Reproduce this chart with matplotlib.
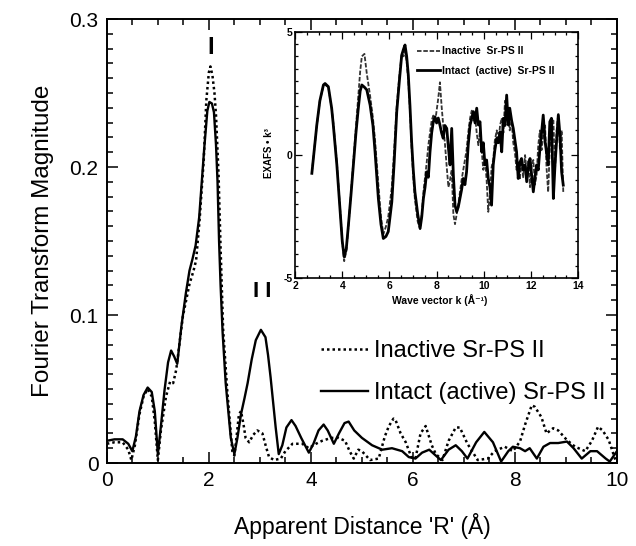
import matplotlib
matplotlib.use("Agg")
import matplotlib.pyplot as plt
from matplotlib.ticker import MultipleLocator, FixedLocator, FixedFormatter

plt.rcParams["font.family"] = ["Liberation Sans", "DejaVu Sans"]

# Fourier transform magnitude vs apparent distance R (A)
r_intact = [0.00, 0.15, 0.31, 0.42, 0.50, 0.57, 0.64, 0.72, 0.80, 0.88, 0.94, 1.00,
            1.06, 1.13, 1.20, 1.26, 1.32, 1.38, 1.46, 1.55, 1.62, 1.68, 1.74, 1.81,
            1.91, 1.97, 2.01, 2.06, 2.10, 2.14, 2.17, 2.20, 2.23, 2.27, 2.33, 2.43,
            2.50, 2.56, 2.63, 2.70, 2.76, 2.84, 2.92, 3.02, 3.11, 3.16, 3.21, 3.31,
            3.37, 3.44, 3.52, 3.62, 3.70, 3.81, 3.96, 4.05, 4.15, 4.25, 4.33, 4.45,
            4.55, 4.66, 4.74, 4.85, 5.00, 5.20, 5.40, 5.59, 5.79, 5.92, 6.05, 6.18,
            6.32, 6.45, 6.55, 6.70, 6.84, 6.96, 7.07, 7.24, 7.40, 7.57, 7.73, 7.87,
            7.96, 8.10, 8.20, 8.29, 8.43, 8.56, 8.69, 8.85, 9.02, 9.15, 9.31, 9.48,
            9.61, 9.78, 9.86, 10.0]
ft_intact = [0.015, 0.016, 0.016, 0.013, 0.008, 0.018, 0.035, 0.046, 0.051, 0.048, 0.035, 0.006,
             0.025, 0.049, 0.068, 0.076, 0.072, 0.067, 0.092, 0.115, 0.130, 0.138, 0.147, 0.166,
             0.213, 0.238, 0.244, 0.243, 0.237, 0.215, 0.190, 0.150, 0.120, 0.088, 0.054, 0.017,
             0.006, 0.017, 0.033, 0.044, 0.054, 0.070, 0.083, 0.090, 0.085, 0.073, 0.058, 0.024,
             0.006, 0.012, 0.024, 0.029, 0.025, 0.017, 0.007, 0.013, 0.022, 0.026, 0.022, 0.013,
             0.020, 0.027, 0.028, 0.022, 0.017, 0.012, 0.009, 0.010, 0.008, 0.004, 0.003, 0.007,
             0.009, 0.005, 0.002, 0.009, 0.012, 0.008, 0.003, 0.014, 0.021, 0.014, 0.001, 0.008,
             0.011, 0.010, 0.008, 0.010, 0.003, 0.011, 0.0135, 0.0135, 0.0145, 0.010, 0.003, 0.008,
             0.008, 0.003, 0.001, 0.008]

r_inactive = [0.00, 0.15, 0.31, 0.42, 0.48, 0.55, 0.64, 0.72, 0.80, 0.88, 0.94, 1.00,
              1.06, 1.16, 1.24, 1.30, 1.36, 1.49, 1.62, 1.70, 1.75, 1.82, 1.90, 1.95,
              2.00, 2.03, 2.07, 2.11, 2.14, 2.19, 2.23, 2.28, 2.36, 2.46, 2.50, 2.55,
              2.59, 2.63, 2.68, 2.72, 2.79, 2.87, 2.95, 3.05, 3.12, 3.18, 3.28, 3.41,
              3.50, 3.64, 3.83, 3.96, 4.10, 4.22, 4.40, 4.54, 4.67, 4.76, 4.84, 4.93,
              5.00, 5.16, 5.33, 5.45, 5.53, 5.62, 5.66, 5.76, 5.86, 5.97, 6.05, 6.15,
              6.25, 6.37, 6.45, 6.58, 6.70, 6.84, 6.92, 7.07, 7.27, 7.47, 7.60, 7.80,
              7.96, 8.10, 8.20, 8.33, 8.39, 8.52, 8.62, 8.75, 8.85, 9.02, 9.18, 9.38,
              9.51, 9.63, 9.72, 9.84, 9.97, 10.0]
ft_inactive = [0.013, 0.014, 0.014, 0.009, 0.002, 0.012, 0.033, 0.045, 0.050, 0.045, 0.028, 0.002,
               0.022, 0.045, 0.055, 0.054, 0.063, 0.099, 0.121, 0.130, 0.137, 0.165, 0.205, 0.245,
               0.264, 0.268, 0.262, 0.250, 0.235, 0.195, 0.145, 0.090, 0.049, 0.008, 0.005, 0.020,
               0.033, 0.035, 0.026, 0.017, 0.014, 0.019, 0.022, 0.020, 0.011, 0.004, 0.002, 0.003,
               0.008, 0.013, 0.013, 0.010, 0.013, 0.015, 0.017, 0.017, 0.015, 0.008, 0.003, 0.009,
               0.008, 0.002, 0.003, 0.018, 0.025, 0.030, 0.029, 0.020, 0.014, 0.004, 0.003, 0.020,
               0.025, 0.012, 0.006, 0.002, 0.015, 0.024, 0.024, 0.013, 0.002, 0.003, 0.008, 0.011,
               0.008, 0.0145, 0.026, 0.039, 0.038, 0.031, 0.020, 0.0235, 0.022, 0.0155, 0.011, 0.008,
               0.015, 0.0245, 0.022, 0.0155, 0.002, 0.002]

# inset: EXAFS * k^3 vs wave vector k
k_exafs = [2.71, 2.92, 3.05, 3.20, 3.27, 3.41, 3.55, 3.62, 3.77, 3.91, 4.00, 4.08,
           4.17, 4.26, 4.37, 4.47, 4.58, 4.68, 4.76, 4.83, 4.94, 5.04, 5.18, 5.30,
           5.39, 5.53, 5.64, 5.74, 5.85, 5.95, 6.10, 6.20, 6.31, 6.42, 6.52, 6.60,
           6.66, 6.73, 6.80, 6.87, 6.94, 7.01, 7.08, 7.20, 7.30, 7.37, 7.44, 7.51,
           7.58, 7.65, 7.72, 7.79, 7.86, 7.93, 8.00, 8.07, 8.14, 8.21, 8.28, 8.35,
           8.43, 8.50, 8.57, 8.64, 8.71, 8.78, 8.85, 8.92, 8.99, 9.06, 9.13, 9.20,
           9.27, 9.34, 9.42, 9.49, 9.56, 9.63, 9.70, 9.77, 9.84, 9.91, 9.98, 10.05,
           10.12, 10.19, 10.26, 10.33, 10.40, 10.47, 10.55, 10.62, 10.69, 10.76, 10.83, 10.90,
           10.97, 11.04, 11.10, 11.18, 11.25, 11.32, 11.39, 11.46, 11.53, 11.60, 11.67, 11.75,
           11.82, 11.89, 11.96, 12.03, 12.10, 12.17, 12.24, 12.31, 12.38, 12.45, 12.52, 12.60,
           12.66, 12.73, 12.80, 12.87, 12.95, 13.02, 13.09, 13.16, 13.23, 13.30, 13.37]
exafs_intact = [-0.74, 1.22, 2.2, 2.84, 2.90, 2.77, 1.9, 1.22, -0.4, -2.3, -3.5, -4.12,
                -3.8, -2.84, -1.6, -0.4, 0.9, 1.9, 2.6, 2.84, 2.75, 2.64, 2.03, 1.2,
                0.13, -1.76, -2.8, -3.38, -3.3, -3.1, -1.9, -0.3, 1.76, 3.0, 4.05, 4.3,
                4.46, 4.0, 3.24, 2.0, 0.54, -0.6, -1.49, -2.4, -2.97, -2.5, -1.76, -1.3,
                -0.68, -0.9, 0.13, 0.9, 1.35, 1.55, 1.3, 1.5, 1.22, 0.9, 0.68, 1.2,
                1.08, 0.3, -0.4, 1.08, -0.81, -2.03, -2.3, -2.1, -1.76, -1.4, -0.95, -1.2,
                -0.68, 0.4, 1.22, 1.5, 1.76, 1.3, 1.9, 1.22, 1.35, 0.13, 0.5, -0.4,
                -0.2, -0.95, -1.3, -2.03, -0.4, 0.2, 0.68, 0.5, 0.94, 0.13, 1.49, 1.2,
                2.43, 1.22, 1.9, 1.4, 1.08, 0.6, 0.13, -0.95, -0.3, -0.14, -0.6, -0.4,
                -1.08, -0.5, -0.14, -0.8, -1.49, -0.9, -0.4, -0.6, 0.27, 0.9, 1.62, 0.54,
                0.1, -0.4, 1.35, 1.49, -1.76, -0.4, 0.6, 1.62, 0.81, -0.68, -1.22]
exafs_inactive = [-0.7, 1.2, 2.2, 2.8, 2.85, 2.75, 1.9, 1.3, -0.3, -2.2, -3.5, -4.3,
                  -3.9, -2.9, -1.5, -0.2, 1.2, 2.4, 3.4, 4.0, 4.1, 3.3, 2.4, 1.5,
                  0.6, -1.2, -2.5, -3.2, -2.9, -2.5, -1.3, 0.2, 2.0, 3.2, 4.1, 4.0,
                  4.2, 3.8, 3.0, 1.8, 0.3, -0.9, -1.8, -2.7, -3.0, -2.4, -1.5, -0.9,
                  -0.3, 0.4, 0.9, 1.4, 1.6, 1.3, 1.8, 2.3, 2.95, 2.0, 1.2, 0.5,
                  -0.5, -1.3, -1.0, -0.6, -2.4, -2.8, -2.4, -2.0, -1.5, -1.0, -0.6, -0.2,
                  0.2, 0.9, 1.5, 1.8, 1.4, 1.6, 0.9, 0.4, 1.0, 0.2, -0.6, -0.2,
                  -1.0, -2.3, -1.6, -0.5, -0.2, 0.6, 1.0, 0.5, 1.2, 1.5, 0.9, 2.2,
                  1.8, 1.6, 1.0, 1.4, 0.5, 0.1, -0.6, -0.4, -1.0, -0.2, -0.9, 0.0,
                  -0.7, -0.2, -1.3, -0.4, -0.2, -1.2, -0.8, 0.4, 1.0, 0.2, 0.8, 1.2,
                  -0.5, -1.5, 0.3, 1.1, 1.4, -0.6, 1.0, 1.7, 0.2, 1.0, -1.5]

main_xticks = [0, 2, 4, 6, 8, 10]
main_yticks = [0, 0.1, 0.2, 0.3]
main_ylabels = ["0", "0.1", "0.2", "0.3"]
inset_xticks = [2, 4, 6, 8, 10, 12, 14]
inset_yticks = [-5, 0, 5]
inset_ylabels = ["-5", "0", "5"]

fig = plt.figure(figsize=(6.36, 5.46), dpi=100)
ax = fig.add_axes([0.168, 0.152, 0.802, 0.813])

ln_intact, = ax.plot(r_intact, ft_intact, color="black", lw=1.7,
                     label="Intact (active) Sr-PS II")
ln_inactive, = ax.plot(r_inactive, ft_inactive, color="black", lw=1.8,
                       linestyle=(0, (1, 1.2)), label="Inactive Sr-PS II")

ax.set_xlim(0, 10)
ax.set_ylim(0, 0.3)
ax.xaxis.set_major_locator(FixedLocator(main_xticks))
ax.xaxis.set_minor_locator(MultipleLocator(0.5))
ax.yaxis.set_major_locator(FixedLocator(main_yticks))
ax.yaxis.set_major_formatter(FixedFormatter(main_ylabels))
ax.yaxis.set_minor_locator(MultipleLocator(0.01))
ax.tick_params(which="both", direction="in", top=True, right=True, width=1.1)
ax.tick_params(which="major", length=8, labelsize=15, pad=6)
ax.tick_params(which="minor", length=4)
for s in ax.spines.values():
    s.set_linewidth(1.4)

ax.set_xlabel("Apparent Distance 'R' (Å)", fontsize=16.5, labelpad=16)
ax.set_ylabel("Fourier Transform Magnitude", fontsize=17.5, labelpad=11)

ax.text(2.03, 0.281, "I", fontsize=17, fontweight="bold", ha="center", va="center")
ax.text(3.05, 0.116, "I I", fontsize=16, fontweight="bold", ha="center", va="center")

ax.legend(handles=[ln_inactive, ln_intact], loc="upper left",
          bbox_to_anchor=(0.42, 0.277), frameon=False, fontsize=17,
          handlelength=2.0, handletextpad=0.25, labelspacing=0.85,
          borderaxespad=0, borderpad=0)

# inset
ins = fig.add_axes([0.464, 0.490, 0.445, 0.452])
ins.plot(k_exafs, exafs_inactive, color="#333333", lw=1.3,
         linestyle=(0, (2.5, 1)), label="Inactive  Sr-PS II")
ins.plot(k_exafs, exafs_intact, color="black", lw=2.0,
         label="Intact  (active)  Sr-PS II")
ins.set_xlim(2, 14)
ins.set_ylim(-5, 5)
ins.xaxis.set_major_locator(FixedLocator(inset_xticks))
ins.xaxis.set_minor_locator(MultipleLocator(0.5))
ins.yaxis.set_major_locator(FixedLocator(inset_yticks))
ins.yaxis.set_major_formatter(FixedFormatter(inset_ylabels))
ins.yaxis.set_minor_locator(MultipleLocator(0.5))
ins.tick_params(which="both", direction="in", top=True, right=True, width=0.9)
ins.tick_params(which="major", length=5, labelsize=7.5, pad=2)
ins.tick_params(which="minor", length=2.5)
for t in ins.get_xticklabels() + ins.get_yticklabels():
    t.set_fontweight("bold")
for s in ins.spines.values():
    s.set_linewidth(1.2)
ins.text(-0.092, 0.51, "EXAFS • k³", transform=ins.transAxes, rotation=90,
         fontsize=7, fontweight="bold", ha="center", va="center")
ins.text(0.51, -0.088, "Wave vector k (Å⁻¹)", transform=ins.transAxes,
         fontsize=7.5, fontweight="bold", ha="center", va="center")
ins.legend(loc="upper left", bbox_to_anchor=(0.43, 0.94), frameon=False,
           prop={"size": 7.5, "weight": "bold"}, handlelength=2.2,
           handletextpad=0.2, labelspacing=0.9, borderaxespad=0, borderpad=0)

fig.savefig("out.png", dpi=100)
